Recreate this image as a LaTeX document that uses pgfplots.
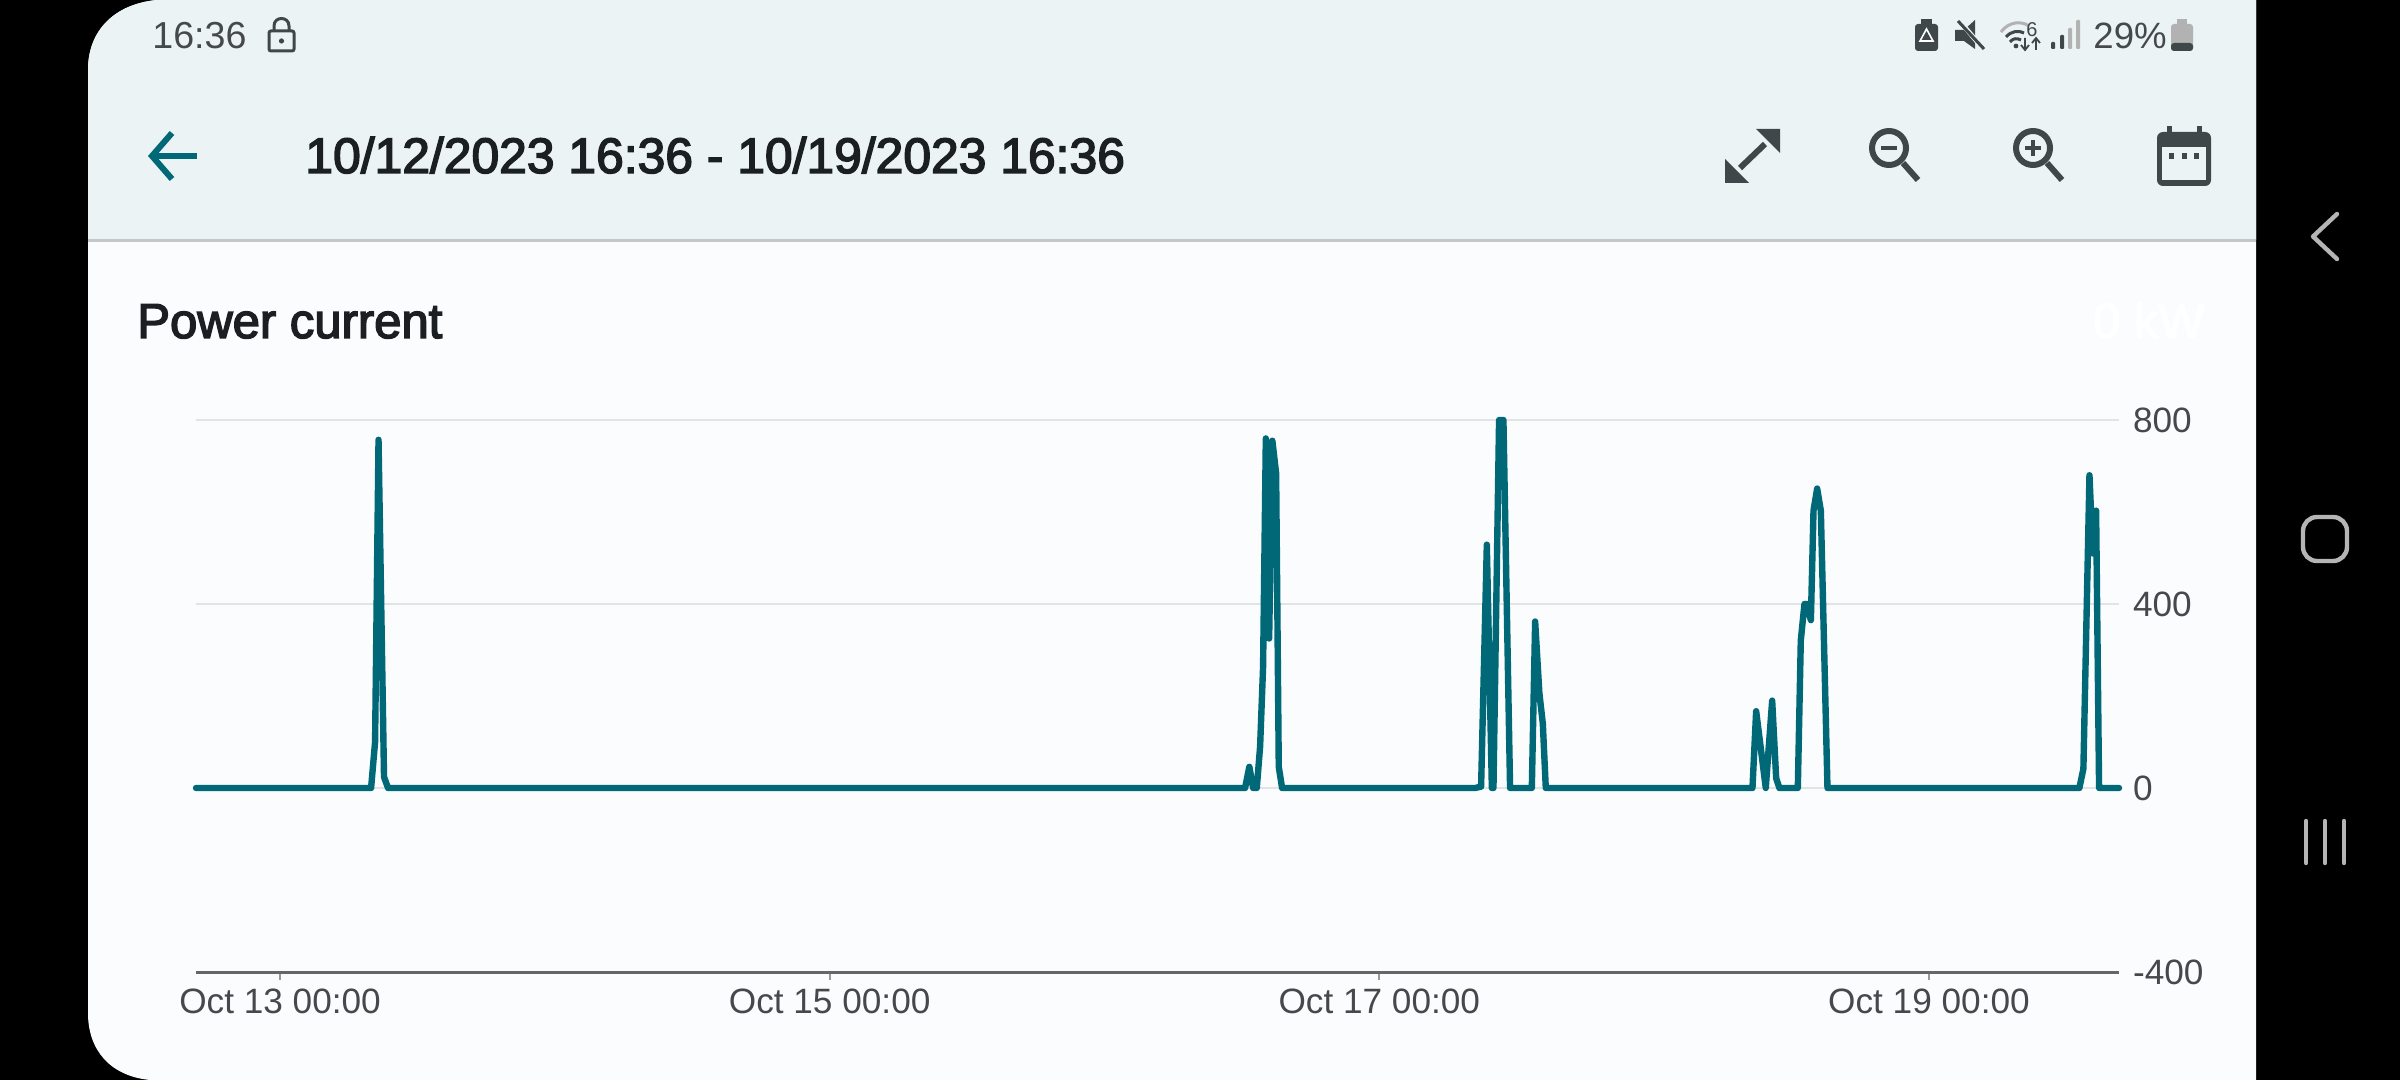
\documentclass[border=0pt]{standalone}
\usepackage{pgfplots}
\pgfplotsset{compat=1.18}
\usepackage{fontspec}
\setmainfont{Liberation Sans}
\newfontfamily\medfont[FakeBold=3]{Liberation Sans}
\definecolor{teal}{HTML}{006877}
\definecolor{headbg}{HTML}{EBF3F5}
\definecolor{panelbg}{HTML}{FBFCFE}
\definecolor{titlecol}{HTML}{1B1F22}
\definecolor{labelcol}{HTML}{46494C}
\definecolor{iconcol}{HTML}{3F474A}
\definecolor{gridcol}{HTML}{E1E3E5}
\definecolor{navcol}{HTML}{B5B5B5}
\pgfplotstableread{
h p
-7.34 0
7.95 0
8.30 100
8.60 757
9.08 24
9.43 0
84.28 0
84.65 46
84.98 0
85.30 0
85.59 90
85.85 263
86.09 760
86.38 325
86.66 755
86.99 684
87.22 46
87.51 0
104.37 0
104.89 3
105.39 529
105.83 0
105.97 0
106.46 800
106.84 800
107.42 0
109.32 0
109.61 362
109.98 206
110.28 140
110.54 0
128.59 0
128.91 167
129.75 0
130.31 190
130.66 21
130.94 0
132.55 0
132.81 321
133.13 400
133.34 400
133.69 365
133.92 603
134.24 651
134.56 603
135.14 0
157.14 0
157.49 42
158.02 680
158.31 510
158.60 603
158.86 0
160.60 0
}\powerdata
\begin{document}
\begin{tikzpicture}[x=0.5pt,y=-0.5pt]
\useasboundingbox (0,0) rectangle (2400,1080);
\fill[black] (0,0) rectangle (2400,1080);
% panel
\fill[panelbg] (157,0) -- (2256,0) -- (2256,1080) -- (150,1080)
  .. controls (110,1076) and (88,1050) .. (88,1013) -- (88,70)
  .. controls (88,30) and (115,4) .. (157,0) -- cycle;
\fill[headbg] (157,0) -- (2256,0) -- (2256,240) -- (88,240) -- (88,70)
  .. controls (88,30) and (115,4) .. (157,0) -- cycle;
\fill[black!22] (88,239) rectangle (2256,242);
% status bar
\node[anchor=base west,inner sep=0,text=labelcol,font=\fontsize{18.8pt}{20pt}\selectfont] at (152,49) {16:36};
\draw[iconcol,line width=1.5pt,rounded corners=1pt] (269,31) rectangle (294,51);
\draw[iconcol,line width=1.5pt] (274,31) -- (274,26) .. controls (274,16) and (289,16) .. (289,26) -- (289,31);
\fill[iconcol] (281.5,41) circle (1.3pt);
\node[anchor=base west,inner sep=0,text=labelcol,font=\fontsize{18.3pt}{20pt}\selectfont] at (2093,49) {29\%};
% battery with recycle
\fill[iconcol,rounded corners=1.5pt] (1915,24) rectangle (1938,51);
\fill[iconcol] (1921,19) rectangle (1932,25);
\draw[white,line width=0.8pt] (1926.5,29) -- (1933,41) -- (1920,41) -- cycle;
% mute
\fill[iconcol] (1955,30) -- (1964,30) -- (1975,20) -- (1975,49) -- (1964,41) -- (1955,41) -- cycle;
\draw[headbg,line width=2.4pt] (1958,19) -- (1984,50);
\draw[iconcol,line width=1.5pt] (1958,21) -- (1984,49);
% wifi
\draw[black!30,line width=1.5pt] (2001,32) .. controls (2009,21) and (2022,21) .. (2029,26);
\draw[iconcol,line width=1.5pt] (2006,37) .. controls (2011,31) and (2019,30) .. (2024,33);
\draw[iconcol,line width=1.5pt] (2010,42) .. controls (2013,38) and (2017,38) .. (2021,40);
\fill[iconcol] (2016,46) circle (1.2pt);
\node[anchor=base,inner sep=0,text=iconcol,font=\fontsize{10pt}{11pt}\selectfont] at (2032,37) {6};
\draw[iconcol,line width=0.9pt] (2025,38) -- (2025,49) (2021,45) -- (2025,50) -- (2029,45);
\draw[iconcol,line width=0.9pt] (2036,50) -- (2036,39) (2032,43) -- (2036,38) -- (2040,43);
% signal
\fill[iconcol,rounded corners=.5pt] (2051,42) rectangle (2055,49);
\fill[iconcol,rounded corners=.5pt] (2060,35) rectangle (2064,49);
\fill[black!30,rounded corners=.5pt] (2068,28) rectangle (2072,49);
\fill[black!30,rounded corners=.5pt] (2076,20) rectangle (2080,49);
% battery
\fill[black!30,rounded corners=1.5pt] (2171,24) rectangle (2193,51);
\fill[black!30] (2177,19) rectangle (2187,25);
\fill[iconcol,rounded corners=1.5pt] (2171,43) rectangle (2193,51);
% toolbar
\draw[teal,line width=3pt,miter limit=10] (172,133) -- (152,156) -- (172,179);
\draw[teal,line width=3pt] (152,156) -- (197,156);
\node[anchor=base west,inner sep=0,text=titlecol,font=\medfont\fontsize{24.9pt}{27pt}\selectfont] at (305,173) {10/12/2023 16:36 - 10/19/2023 16:36};
% expand
\fill[iconcol] (1780,129) -- (1756,129) -- (1780,153) -- cycle;
\fill[iconcol] (1725,183) -- (1725,159) -- (1749,183) -- cycle;
\draw[iconcol,line width=3pt] (1765,144) -- (1740,168);
% zoom out
\draw[iconcol,line width=3pt] (1889,148) circle (8.5pt);
\draw[iconcol,line width=3pt] (1903,163) -- (1918,180);
\draw[iconcol,line width=2pt] (1881,148) -- (1897,148);
% zoom in
\draw[iconcol,line width=3pt] (2033,148) circle (8.5pt);
\draw[iconcol,line width=3pt] (2047,163) -- (2062,180);
\draw[iconcol,line width=2pt] (2025,148) -- (2041,148) (2033,140) -- (2033,156);
% calendar
\fill[iconcol,rounded corners=3pt] (2157,132) rectangle (2211,186);
\fill[headbg] (2162,147) rectangle (2206,180);
\fill[iconcol] (2167,126) rectangle (2172,134);
\fill[iconcol] (2197,126) rectangle (2202,134);
\fill[iconcol] (2169,153) rectangle (2174,159);
\fill[iconcol] (2182,153) rectangle (2187,159);
\fill[iconcol] (2194,153) rectangle (2199,159);
% nav
\draw[navcol,line width=2.2pt,line cap=round,line join=round] (2337,214) -- (2313,236.5) -- (2337,259);
\draw[navcol,line width=2.2pt,rounded corners=7pt] (2303,517) rectangle (2347,561);
\draw[navcol,line width=2.2pt,line cap=round] (2306,821) -- (2306,863) (2325,821) -- (2325,863) (2344,821) -- (2344,863);
% titles
\node[anchor=base west,inner sep=0,text=titlecol,font=\medfont\fontsize{24.5pt}{26pt}\selectfont] at (137,338) {Power current};
\node[anchor=base east,inner sep=0,text=white,font=\medfont\fontsize{24.5pt}{26pt}\selectfont] at (2205,338) {0 kW};
\begin{axis}[
  at={(98pt,-486pt)}, anchor=south west,
  scale only axis, width=961.5pt, height=276pt,
  xmin=-7.34, xmax=160.6, ymin=-400, ymax=800,
  clip=false,
  axis x line=bottom, axis y line=right,
  axis line style={-},
  x axis line style={draw=black!60,line width=1.5pt},
  y axis line style={draw=none},
  xtick={0,48,96,144},
  xticklabels={Oct 13 00:00,Oct 15 00:00,Oct 17 00:00,Oct 19 00:00},
  ytick={-400,0,400,800},
  yticklabels={-400,0,400,800},
  ymajorgrids,
  grid style={gridcol,line width=1.2pt},
  tick align=outside,
  major tick length=4pt,
  x tick style={draw=black!40,line width=1pt},
  y tick style={draw=none},
  ticklabel style={font=\fontsize{17.6pt}{19pt}\selectfont,text=labelcol},
  xticklabel style={yshift=-1pt},
  yticklabel style={anchor=west,xshift=-0.5pt},
]
\addplot[teal,line width=3.2pt,line join=round,line cap=round,mark=none] table[x=h,y=p] {\powerdata};
\end{axis}
\end{tikzpicture}
\end{document}
